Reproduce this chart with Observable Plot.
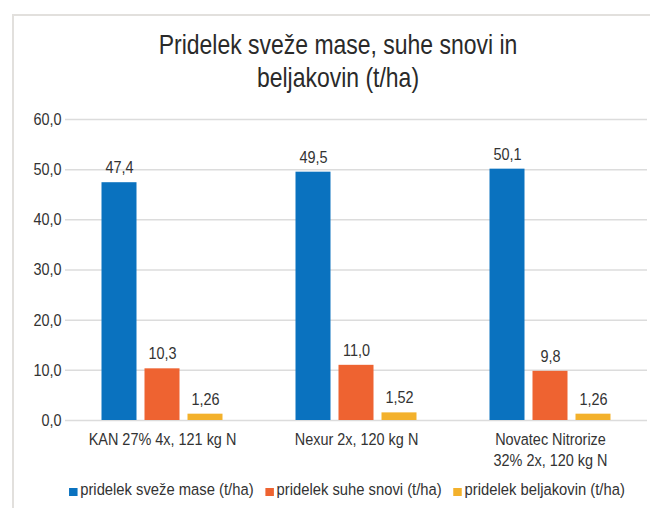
<!DOCTYPE html>
<html>
<head>
<meta charset="utf-8">
<script src="https://cdn.jsdelivr.net/npm/d3@7"></script>
<script src="https://cdn.jsdelivr.net/npm/@observablehq/plot@0.6"></script>
<style>
  html, body { margin: 0; padding: 0; background: #fff; }
  #page { position: relative; width: 650px; height: 508px; overflow: hidden; background: #fff;
          font-family: "Liberation Sans", Arial, sans-serif; color: #333; }
  #frame { position: absolute; left: 12px; top: 14px; width: 700px; height: 600px;
           border-left: 2px solid #e2e0dd; border-top: 2px solid #e2e0dd; }
  #title { position: absolute; left: 0; top: 28px; width: 676px; text-align: center;
           font-size: 28px; line-height: 33px; color: #2a2a2a; transform: scaleX(0.82); transform-origin: 338px 0; }
  #chart { position: absolute; left: 0; top: 100px; }
  #legend { position: absolute; left: 0; top: 479px; width: 694px; display: flex; justify-content: center;
            font-size: 17.4px; color: #333; white-space: nowrap; transform: scaleX(0.85); transform-origin: 347px 0; }
  .item { display: flex; align-items: center; margin-right: 14px; }
  .item:last-child { margin-right: 0; }
  .sw { width: 9.5px; height: 8px; margin-right: 3.5px; margin-top: 4px; }
</style>
</head>
<body>
<div id="page">
  <div id="frame"></div>
  <div id="title">Pridelek sveže mase, suhe snovi in<br>beljakovin (t/ha)</div>
  <div id="chart"></div>
  <div id="legend"></div>
</div>
<script>
const categories = ["KAN 27% 4x, 121 kg N", "Nexur 2x, 120 kg N", "Novatec Nitrorize 32% 2x, 120 kg N"];
const categoryLabels = ["KAN 27% 4x, 121 kg N", "Nexur 2x, 120 kg N", "Novatec Nitrorize\n32% 2x, 120 kg N"];
const seriesNames = ["pridelek sveže mase (t/ha)", "pridelek suhe snovi (t/ha)", "pridelek beljakovin (t/ha)"];
const svezeMasa = [47.4, 49.5, 50.1];
const suheSnovi = [10.3, 11.0, 9.8];
const beljakovine = [1.26, 1.52, 1.26];
const seriesDecimals = [1, 1, 2];
const yTicks = [0, 10, 20, 30, 40, 50, 60];
const colors = ["#0a72bf", "#ee6331", "#f3b12c"];

const seriesValues = [svezeMasa, suheSnovi, beljakovine];
const W = 650, H = 375, ML = 65, MR = 3, MT = 19, MB = 55;
const step = (W - ML - MR) / categories.length;
const barW = 35, gap = 43;
const inset = (step - barW) / 2;
const comma = (v, d) => d3.format(`.${d}f`)(v).replace(".", ",");

const marks = [
  Plot.ruleY(yTicks, {stroke: "#dcdcdc", strokeWidth: 1.5}),
  Plot.axisY({ticks: yTicks, tickSize: 0, tickPadding: 4, label: null, tickFormat: d => comma(d, 1), fontSize: 17}),
  Plot.axisX({tickSize: 0, tickPadding: 9, label: null, lineHeight: 1.25, fontSize: 17,
    tickFormat: d => categoryLabels[categories.indexOf(d)]})
];
seriesValues.forEach((vals, si) => {
  const data = categories.map((c, i) => ({cat: c, v: vals[i]}));
  const dx = (si - 1) * gap;
  marks.push(Plot.barY(data, {x: "cat", y: "v", fill: colors[si], dx, insetLeft: inset, insetRight: inset}));
  marks.push(Plot.text(data, {x: "cat", y: "v", text: d => comma(d.v, seriesDecimals[si]), dx, dy: -15,
    fontSize: 17, fill: "#333"}));
});

const chart = Plot.plot({
  width: W, height: H,
  marginLeft: ML, marginRight: MR, marginTop: MT, marginBottom: MB,
  style: {fontFamily: '"Liberation Sans", Arial, sans-serif', fontSize: "17px", color: "#333", background: "transparent"},
  x: {domain: categories, padding: 0},
  y: {domain: [0, 60]},
  marks
});
document.getElementById("chart").appendChild(chart);

// condense text horizontally (narrow typeface look): y tick labels about their right edge, others about their centre
const svgRect = chart.getBoundingClientRect();
const SX = 0.85;
Array.from(chart.querySelectorAll("text")).forEach(t => {
  const r = t.getBoundingClientRect();
  const right = r.right - svgRect.left;
  const sx = right <= ML + 1 ? r.right : (r.left + r.right) / 2;
  const parent = t.parentNode;
  const m = parent.getScreenCTM().inverse();
  const p = new DOMPoint(sx, (r.top + r.bottom) / 2).matrixTransform(m);
  const g = document.createElementNS("http://www.w3.org/2000/svg", "g");
  g.setAttribute("transform", `translate(${p.x},0) scale(${SX},1) translate(${-p.x},0)`);
  parent.insertBefore(g, t);
  g.appendChild(t);
});

const legend = document.getElementById("legend");
seriesNames.forEach((n, i) => {
  const it = document.createElement("div");
  it.className = "item";
  const sw = document.createElement("span");
  sw.className = "sw";
  sw.style.background = colors[i];
  it.appendChild(sw);
  it.appendChild(document.createTextNode(n));
  legend.appendChild(it);
});
</script>
</body>
</html>
